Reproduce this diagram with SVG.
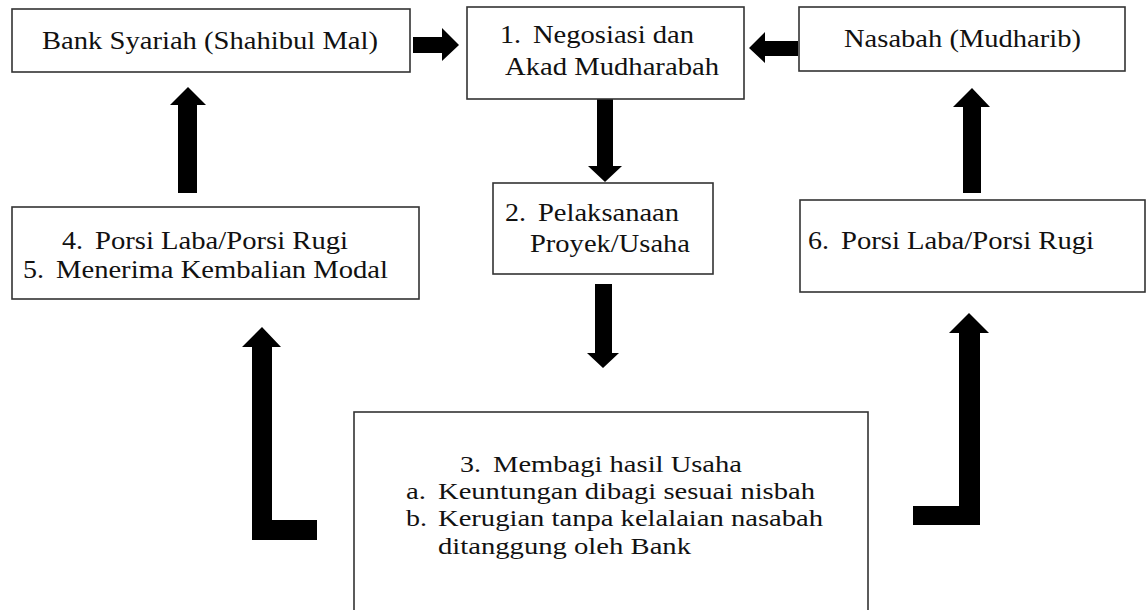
<svg xmlns="http://www.w3.org/2000/svg" width="1147" height="610" viewBox="0 0 1147 610">
<style>
.box{fill:#fff;stroke:#333;stroke-width:1.6}
.t{font-family:"Liberation Serif","Tinos","Times New Roman","DejaVu Serif","Noto Serif",serif;font-size:25px;fill:#111}
.s{font-size:23px}
.arr{fill:#000}
</style>
<rect x="0" y="0" width="1147" height="610" fill="#fff"/>
<g id="connectors">
<polygon class="arr" points="413,37 442,37 442,28 459,45 442,61 442,53 413,53"/>
<polygon class="arr" points="798,41 765,41 765,32 749,48 765,63 765,56 798,56"/>
<polygon class="arr" points="597,99 613,99 613,166 622,166 605,182 588,166 597,166"/>
<polygon class="arr" points="595,284 612,284 612,353 619,353 603,368 587,353 595,353"/>
<polygon class="arr" points="178,193 197,193 197,105 206,105 188,87 170,105 178,105"/>
<polygon class="arr" points="963,193 981,193 981,107 990,107 972,88 953,107 963,107"/>
<polygon class="arr" points="317,540 252,540 252,347 242,347 262,327 281,347 272,347 272,520 317,520"/>
<polygon class="arr" points="913,525 980,525 980,333 989,333 969,313 949,333 959,333 959,506 913,506"/>
</g>
<g id="bank">
<rect class="box" x="12" y="9" width="398" height="63"/>
<text class="t" x="42" y="49" textLength="336" lengthAdjust="spacingAndGlyphs">Bank Syariah (Shahibul Mal)</text>
</g>
<g id="negosiasi">
<rect class="box" x="467" y="7" width="277" height="92"/>
<text class="t" x="500" y="43" textLength="21" lengthAdjust="spacingAndGlyphs">1.</text>
<text class="t" x="533" y="43" textLength="161" lengthAdjust="spacingAndGlyphs">Negosiasi dan</text>
<text class="t" x="505" y="75" textLength="214" lengthAdjust="spacingAndGlyphs">Akad Mudharabah</text>
</g>
<g id="nasabah">
<rect class="box" x="799" y="7" width="326" height="64"/>
<text class="t" x="844" y="47" textLength="237" lengthAdjust="spacingAndGlyphs">Nasabah (Mudharib)</text>
</g>
<g id="pelaksanaan">
<rect class="box" x="493" y="183" width="220" height="91"/>
<text class="t" x="505" y="221" textLength="21" lengthAdjust="spacingAndGlyphs">2.</text>
<text class="t" x="538" y="221" textLength="141" lengthAdjust="spacingAndGlyphs">Pelaksanaan</text>
<text class="t" x="530" y="252" textLength="160" lengthAdjust="spacingAndGlyphs">Proyek/Usaha</text>
</g>
<g id="porsi-bank">
<rect class="box" x="12" y="207" width="407" height="92"/>
<text class="t" x="62" y="249" textLength="21" lengthAdjust="spacingAndGlyphs">4.</text>
<text class="t" x="95" y="249" textLength="253" lengthAdjust="spacingAndGlyphs">Porsi Laba/Porsi Rugi</text>
<text class="t" x="23" y="278" textLength="21" lengthAdjust="spacingAndGlyphs">5.</text>
<text class="t" x="56" y="278" textLength="332" lengthAdjust="spacingAndGlyphs">Menerima Kembalian Modal</text>
</g>
<g id="porsi-nasabah">
<rect class="box" x="800" y="200" width="345" height="92"/>
<text class="t" x="808" y="249" textLength="21" lengthAdjust="spacingAndGlyphs">6.</text>
<text class="t" x="841" y="249" textLength="253" lengthAdjust="spacingAndGlyphs">Porsi Laba/Porsi Rugi</text>
</g>
<g id="membagi">
<rect class="box" x="354" y="412" width="514" height="240"/>
<text class="t s" x="460" y="472" textLength="21" lengthAdjust="spacingAndGlyphs">3.</text>
<text class="t s" x="493" y="472" textLength="249" lengthAdjust="spacingAndGlyphs">Membagi hasil Usaha</text>
<text class="t s" x="406" y="499" textLength="20" lengthAdjust="spacingAndGlyphs">a.</text>
<text class="t s" x="438" y="499" textLength="377" lengthAdjust="spacingAndGlyphs">Keuntungan dibagi sesuai nisbah</text>
<text class="t s" x="406" y="526" textLength="21" lengthAdjust="spacingAndGlyphs">b.</text>
<text class="t s" x="438" y="526" textLength="385" lengthAdjust="spacingAndGlyphs">Kerugian tanpa kelalaian nasabah</text>
<text class="t s" x="438" y="554" textLength="253" lengthAdjust="spacingAndGlyphs">ditanggung oleh Bank</text>
</g>
</svg>
